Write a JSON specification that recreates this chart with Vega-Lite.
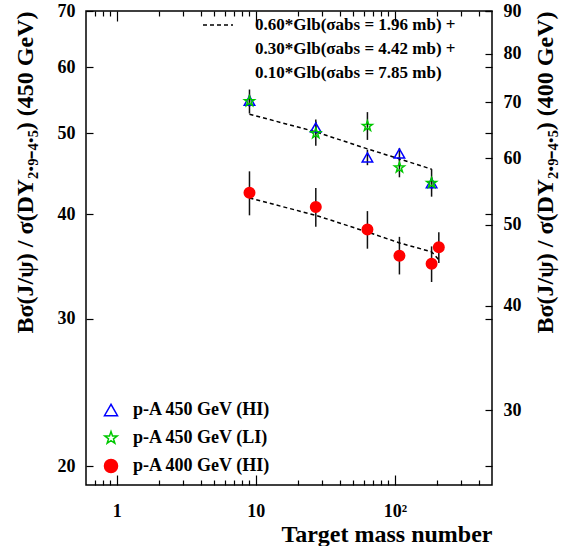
{
  "$schema": "https://vega.github.io/schema/vega-lite/v6.json",
  "width": 406,
  "height": 474,
  "autosize": {"type": "none"},
  "padding": {"left": 86, "top": 11, "right": 69, "bottom": 61},
  "config": {
    "font": "Liberation Serif",
    "view": {"stroke": "black", "strokeWidth": 1.5},
    "axis": {
      "labelFont": "Liberation Serif", "labelFontWeight": "bold", "labelFontSize": 18, "labelColor": "black",
      "titleFont": "Liberation Serif", "titleFontWeight": "bold", "titleFontSize": 24, "titleColor": "black",
      "domain": false, "grid": false, "tickColor": "black", "tickWidth": 1.2,
      "labelFlush": false, "labelOverlap": false
    },
    "legend": {"labelFont": "Liberation Serif", "labelFontWeight": "bold", "labelColor": "black", "padding": 0, "labelLimit": 400}
  },
  "datasets": {
    "d450": [
      {"A": 9, "series": "p-A 450 GeV (HI)", "v": 54.7, "lo": 53.8, "hi": 55.6},
      {"A": 27, "series": "p-A 450 GeV (HI)", "v": 50.8, "lo": 49.9, "hi": 51.6},
      {"A": 63.5, "series": "p-A 450 GeV (HI)", "v": 46.8, "lo": 45.8, "hi": 47.8},
      {"A": 107.9, "series": "p-A 450 GeV (HI)", "v": 47.3, "lo": 46.4, "hi": 48.0},
      {"A": 183.8, "series": "p-A 450 GeV (HI)", "v": 43.6, "lo": 42.9, "hi": 44.3},
      {"A": 9, "series": "p-A 450 GeV (LI)", "v": 54.6, "lo": 52.8, "hi": 56.4},
      {"A": 27, "series": "p-A 450 GeV (LI)", "v": 50.0, "lo": 48.3, "hi": 51.95},
      {"A": 63.5, "series": "p-A 450 GeV (LI)", "v": 51.0, "lo": 49.1, "hi": 53.0},
      {"A": 107.9, "series": "p-A 450 GeV (LI)", "v": 45.5, "lo": 44.3, "hi": 46.8},
      {"A": 183.8, "series": "p-A 450 GeV (LI)", "v": 43.6, "lo": 42.0, "hi": 45.3}
    ],
    "d400": [
      {"A": 9, "series": "p-A 400 GeV (HI)", "v": 54.6, "lo": 51.3, "hi": 57.9},
      {"A": 27, "series": "p-A 400 GeV (HI)", "v": 52.5, "lo": 49.7, "hi": 55.3},
      {"A": 63.5, "series": "p-A 400 GeV (HI)", "v": 49.35, "lo": 46.8, "hi": 51.9},
      {"A": 107.9, "series": "p-A 400 GeV (HI)", "v": 45.9, "lo": 43.6, "hi": 48.35},
      {"A": 183.8, "series": "p-A 400 GeV (HI)", "v": 44.9, "lo": 42.7, "hi": 47.1},
      {"A": 207.2, "series": "p-A 400 GeV (HI)", "v": 47.0, "lo": 45.0, "hi": 48.95}
    ],
    "m450": [
      {"A": 9, "m": 52.7, "model": "g1"},
      {"A": 27, "m": 50.2, "model": "g1"},
      {"A": 63.5, "m": 47.9, "model": "g1"},
      {"A": 107.9, "m": 46.6, "model": "g1"},
      {"A": 183.8, "m": 45.3, "model": "g1"}
    ],
    "m400": [
      {"A": 9, "m": 53.8, "model": "g1"},
      {"A": 27, "m": 51.3, "model": "g1"},
      {"A": 63.5, "m": 49.0, "model": "g1"},
      {"A": 107.9, "m": 47.55, "model": "g1"},
      {"A": 183.8, "m": 46.4, "model": "g1"},
      {"A": 207.2, "m": 45.4, "model": "g1"}
    ]
  },
  "layer": [
    {
      "data": {"name": "d450"},
      "mark": {"type": "rule", "color": "#111111", "strokeWidth": 1.5},
      "encoding": {
        "x": {"field": "A", "type": "quantitative",
          "scale": {"type": "log", "domain": [0.6, 500], "nice": false},
          "axis": {"orient": "bottom",
            "values": [0.7, 0.8, 0.9, 1, 2, 3, 4, 5, 6, 7, 8, 9, 10, 20, 30, 40, 50, 60, 70, 80, 90, 100, 200, 300, 400],
            "labelExpr": "datum.value == 1 ? '1' : datum.value == 10 ? '10' : datum.value == 100 ? '10²' : ''",
            "tickSize": {"condition": {"test": "datum.value == 1 || datum.value == 10 || datum.value == 100", "value": -10}, "value": -5},
            "labelPadding": 27,
            "title": "Target mass number", "titleAnchor": "end", "titlePadding": -3}},
        "y": {"field": "lo", "type": "quantitative",
          "scale": {"type": "log", "domain": [19, 70], "nice": false},
          "axis": {"orient": "left", "values": [20, 30, 40, 50, 60, 70], "tickSize": -7, "labelPadding": 18,
            "title": "Bσ(J/ψ) / σ(DY₂.₉₋₄.₅) (450 GeV)", "titleAnchor": "end", "titlePadding": 20}},
        "y2": {"field": "hi"}
      }
    },
    {
      "data": {"name": "m450"},
      "mark": {"type": "line", "color": "black", "strokeWidth": 1.5},
      "encoding": {
        "x": {"field": "A", "type": "quantitative", "scale": {"type": "log", "domain": [0.6, 500], "nice": false}, "axis": null},
        "y": {"field": "m", "type": "quantitative", "scale": {"type": "log", "domain": [19, 70], "nice": false},
          "axis": {"orient": "right", "values": [20, 30, 40, 50, 60, 70], "tickSize": -7, "labels": false, "title": null}},
        "strokeDash": {"field": "model", "type": "nominal", "scale": {"domain": ["g1", "g2", "g3"], "range": [[4, 3], [0, 100], [0, 100]]},
          "legend": {"orient": "none", "legendX": 116, "legendY": -2, "title": null, "symbolType": "stroke", "symbolSize": 900,
            "symbolStrokeWidth": 1.5, "symbolStrokeColor": "black", "labelFontSize": 17, "labelOffset": 21, "labelBaseline": "middle", "rowPadding": -17.5,
            "labelExpr": "datum.value == 'g1' ? '0.60*Glb(σabs = 1.96 mb) +' : datum.value == 'g2' ? '0.30*Glb(σabs = 4.42 mb) +' : '0.10*Glb(σabs = 7.85 mb)'"}}
      }
    },
    {
      "data": {"name": "d450"},
      "mark": {"type": "point", "size": 110, "strokeWidth": 1.5, "opacity": 1},
      "encoding": {
        "x": {"field": "A", "type": "quantitative", "scale": {"type": "log", "domain": [0.6, 500], "nice": false}, "axis": null},
        "y": {"field": "v", "type": "quantitative", "scale": {"type": "log", "domain": [19, 70], "nice": false}, "axis": null},
        "shape": {"field": "series", "type": "nominal",
          "scale": {"domain": ["p-A 450 GeV (HI)", "p-A 450 GeV (LI)", "p-A 400 GeV (HI)"],
            "range": ["triangle-up", "M0,-1L0.235,-0.324L0.951,-0.309L0.38,0.124L0.588,0.809L0,0.4L-0.588,0.809L-0.38,0.124L-0.951,-0.309L-0.235,-0.324Z", "circle"]},
          "legend": {"orient": "none", "legendX": 16, "legendY": 390, "title": null, "symbolSize": 170, "labelFontSize": 18, "rowPadding": 9, "symbolStrokeWidth": 1.5, "labelOffset": 13}},
        "stroke": {"field": "series", "type": "nominal",
          "scale": {"domain": ["p-A 450 GeV (HI)", "p-A 450 GeV (LI)", "p-A 400 GeV (HI)"], "range": ["#0000ff", "#00c800", "#ff0000"]},
          "legend": {"orient": "none", "legendX": 16, "legendY": 390, "title": null, "symbolSize": 170, "labelFontSize": 18, "rowPadding": 9, "symbolStrokeWidth": 1.5, "labelOffset": 13}},
        "fill": {"field": "series", "type": "nominal",
          "scale": {"domain": ["p-A 450 GeV (HI)", "p-A 450 GeV (LI)", "p-A 400 GeV (HI)"], "range": ["transparent", "transparent", "#ff0000"]},
          "legend": {"orient": "none", "legendX": 16, "legendY": 390, "title": null, "symbolSize": 170, "labelFontSize": 18, "rowPadding": 9, "symbolStrokeWidth": 1.5, "labelOffset": 13}}
      }
    },
    {
      "data": {"name": "d400"},
      "mark": {"type": "rule", "color": "#111111", "strokeWidth": 1.5},
      "encoding": {
        "x": {"field": "A", "type": "quantitative",
          "scale": {"type": "log", "domain": [0.6, 500], "nice": false},
          "axis": {"orient": "top",
            "values": [0.7, 0.8, 0.9, 1, 2, 3, 4, 5, 6, 7, 8, 9, 10, 20, 30, 40, 50, 60, 70, 80, 90, 100, 200, 300, 400],
            "labels": false, "title": null,
            "tickSize": {"condition": {"test": "datum.value == 1 || datum.value == 10 || datum.value == 100", "value": -10}, "value": -5}}},
        "y": {"field": "lo", "type": "quantitative",
          "scale": {"type": "log", "domain": [24.43, 90], "nice": false},
          "axis": {"orient": "right", "values": [30, 40, 50, 60, 70, 80, 90], "tickSize": -7, "labelPadding": 18,
            "title": "Bσ(J/ψ) / σ(DY₂.₉₋₄.₅) (400 GeV)", "titleAngle": -90, "titleAnchor": "end", "titlePadding": 36}},
        "y2": {"field": "hi"}
      }
    },
    {
      "data": {"name": "m400"},
      "mark": {"type": "line", "color": "black", "strokeWidth": 1.5},
      "encoding": {
        "x": {"field": "A", "type": "quantitative", "scale": {"type": "log", "domain": [0.6, 500], "nice": false}, "axis": null},
        "y": {"field": "m", "type": "quantitative", "scale": {"type": "log", "domain": [24.43, 90], "nice": false}, "axis": null},
        "strokeDash": {"field": "model", "type": "nominal", "scale": {"domain": ["g1", "g2", "g3"], "range": [[4, 3], [0, 100], [0, 100]]}}
      }
    },
    {
      "data": {"name": "d400"},
      "mark": {"type": "point", "size": 110, "strokeWidth": 1.5, "opacity": 1},
      "encoding": {
        "x": {"field": "A", "type": "quantitative", "scale": {"type": "log", "domain": [0.6, 500], "nice": false}, "axis": null},
        "y": {"field": "v", "type": "quantitative", "scale": {"type": "log", "domain": [24.43, 90], "nice": false}, "axis": null},
        "shape": {"field": "series", "type": "nominal",
          "scale": {"domain": ["p-A 450 GeV (HI)", "p-A 450 GeV (LI)", "p-A 400 GeV (HI)"],
            "range": ["triangle-up", "M0,-1L0.235,-0.324L0.951,-0.309L0.38,0.124L0.588,0.809L0,0.4L-0.588,0.809L-0.38,0.124L-0.951,-0.309L-0.235,-0.324Z", "circle"]}},
        "stroke": {"field": "series", "type": "nominal",
          "scale": {"domain": ["p-A 450 GeV (HI)", "p-A 450 GeV (LI)", "p-A 400 GeV (HI)"], "range": ["#0000ff", "#00c800", "#ff0000"]}},
        "fill": {"field": "series", "type": "nominal",
          "scale": {"domain": ["p-A 450 GeV (HI)", "p-A 450 GeV (LI)", "p-A 400 GeV (HI)"], "range": ["transparent", "transparent", "#ff0000"]}}
      }
    }
  ],
  "resolve": {"scale": {"x": "independent", "y": "independent"}}
}
